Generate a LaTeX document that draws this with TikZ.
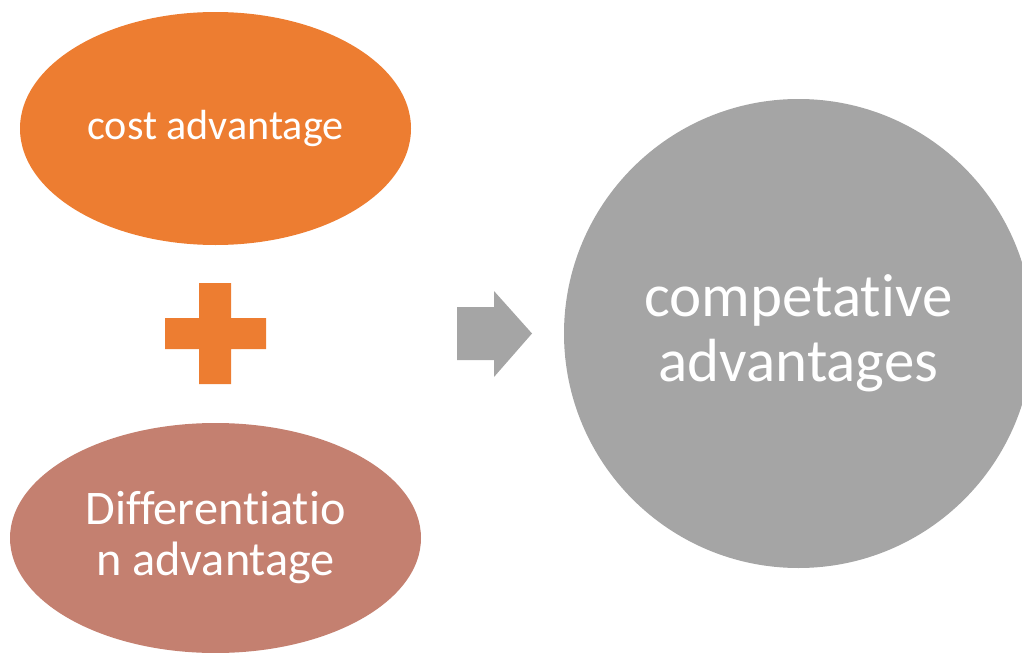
\documentclass[tikz,border=0pt]{standalone}
\usepackage{fontspec}
\setmainfont[Ligatures=NoCommon]{Carlito}
\usetikzlibrary{shapes.geometric}
\definecolor{orangeA}{HTML}{ED7D31}
\definecolor{roseA}{HTML}{C48070}
\definecolor{greyA}{HTML}{A5A5A5}
\tikzstyle{blob}=[ellipse,inner sep=0pt,text=white,align=center]
\tikzstyle{kleintext}=[font=\fontsize{31.6}{38}\selectfont]
\tikzstyle{mitteltext}=[font=\fontsize{36.2}{38.25}\selectfont]
\tikzstyle{grosstext}=[font=\fontsize{45.7}{48.75}\selectfont]

\begin{document}
\begin{tikzpicture}[x=0.75pt,y=-0.75pt]
	% Rahmen festlegen
	\useasboundingbox (0,0) rectangle (1022,653);
	% Ellipsen links
	\node[blob,kleintext,fill=orangeA,minimum width=293.25pt,minimum height=174.75pt] (kosten) at (215.5,128.5) {cost advantage};
	\node[blob,mitteltext,fill=roseA,minimum width=308.25pt,minimum height=172.5pt] (differenz) at (215.5,538) {Differentiatio\\n advantage};
	% Pluszeichen
	\fill[orangeA] (199,283) -- (231,283) -- (231,318) -- (266,318) -- (266,349) -- (231,349)
		-- (231,384) -- (199,384) -- (199,349) -- (165,349) -- (165,318) -- (199,318) -- cycle;
	% Pfeil nach rechts
	\fill[greyA] (457,307) -- (494,307) -- (494,291) -- (532,333.5) -- (494,377) -- (494,360) -- (457,360) -- cycle;
	% Kreis rechts
	\node[blob,grosstext,circle,fill=greyA,minimum size=351.75pt] (vorteil) at (798.5,333.5) {competative\\advantages};
\end{tikzpicture}
\end{document}
